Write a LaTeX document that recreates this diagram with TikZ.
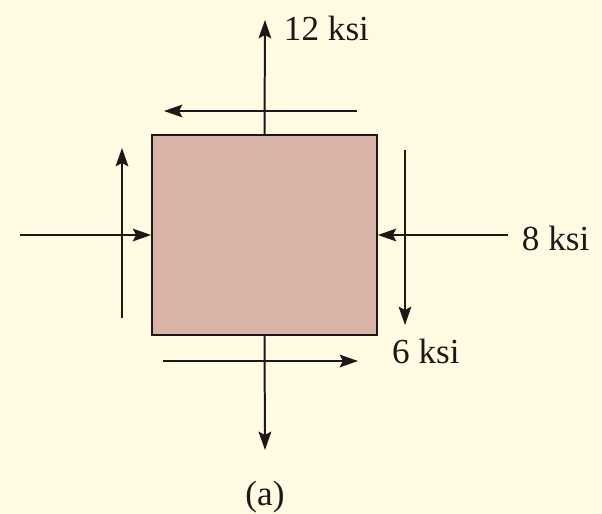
\documentclass[tikz,border=0pt]{standalone}
\usepackage{fontspec}
\setmainfont{Liberation Serif}
\usetikzlibrary{arrows.meta}

\definecolor{paper}{RGB}{255,251,226}
\definecolor{elfill}{RGB}{217,178,168}
\definecolor{ink}{RGB}{28,24,22}

\tikzset{
  force/.style={draw=ink,line width=1.7pt,-{Stealth[length=0.55cm,width=0.38cm,inset=0.1cm]}},
  ksi/.style={inner sep=0pt,text=ink,font=\fontsize{30}{32}\selectfont}
}

\begin{document}
\begin{tikzpicture}[x=0.03cm,y=-0.03cm]
\fill[paper] (0,0) rectangle (602,514);
\useasboundingbox (0,0) rectangle (602,514);
% stress element
\node[draw=ink,line width=1.5pt,fill=elfill,inner sep=0pt,minimum width=6.75cm,minimum height=6cm] (el) at (264.5,235) {};
% normal stresses
\coordinate (top) at (265,20);
\coordinate (bot) at (265,450);
\coordinate (lft) at (20,235);
\coordinate (rgt) at (508,235);
\draw[force] (el.north) -- (top) node[ksi,anchor=west] at (283,28) (s12) {12 ksi};
\draw[force] (el.south) -- (bot);
\draw[force] (lft) -- (el.west);
\draw[force] (rgt) -- (el.east) node[ksi,anchor=west] at (521,238) (s8) {8 ksi};
% shear stresses
\coordinate (tsa) at (357,111); \coordinate (tsb) at (164,111);
\coordinate (bsa) at (163,361); \coordinate (bsb) at (358,361);
\coordinate (lsa) at (122,318); \coordinate (lsb) at (122,148);
\coordinate (rsa) at (405,150); \coordinate (rsb) at (405,325);
\draw[force] (tsa) -- (tsb);
\draw[force] (bsa) -- (bsb);
\draw[force] (lsa) -- (lsb);
\draw[force] (rsa) -- (rsb);
\node[ksi,anchor=west] (s6) at (392,351) {6 ksi};
\node[ksi] (cap) at (265,497) {(a)};
\end{tikzpicture}
\end{document}
